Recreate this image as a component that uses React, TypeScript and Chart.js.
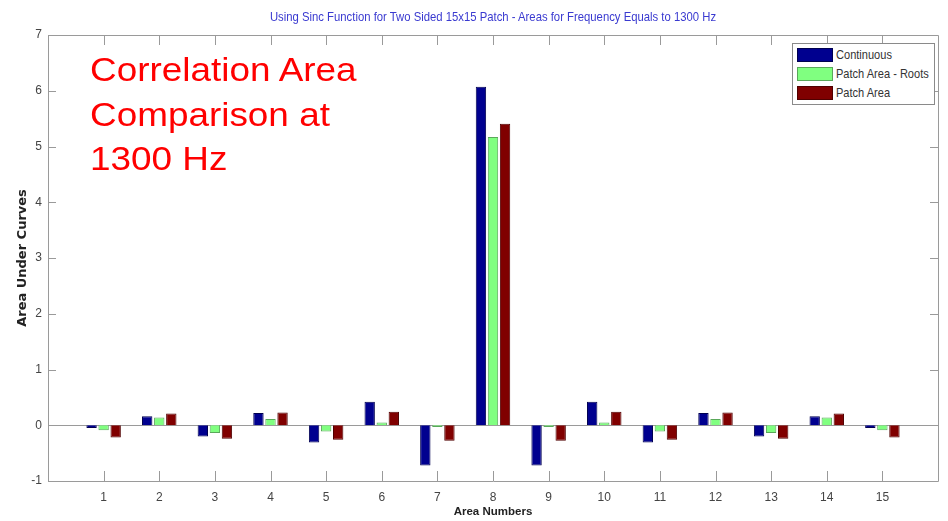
import React, { useEffect, useRef } from "react";
import { Chart, registerables } from "chart.js";

Chart.register(...registerables);

const areaNumbers = ["1", "2", "3", "4", "5", "6", "7", "8", "9", "10", "11", "12", "13", "14", "15"];
const continuous = [-0.05, 0.16, -0.2, 0.22, -0.31, 0.42, -0.72, 6.07, -0.72, 0.42, -0.31, 0.22, -0.2, 0.16, -0.05];
const patchAreaRoots = [-0.09, 0.14, -0.14, 0.11, -0.11, 0.05, -0.03, 5.17, -0.03, 0.05, -0.11, 0.11, -0.14, 0.14, -0.09];
const patchArea = [-0.22, 0.21, -0.24, 0.23, -0.26, 0.24, -0.28, 5.41, -0.28, 0.24, -0.26, 0.23, -0.24, 0.21, -0.22];
const yTickValues = [-1, 0, 1, 2, 3, 4, 5, 6, 7];

const titleText = "Using Sinc Function for Two Sided 15x15 Patch - Areas for Frequency Equals to 1300 Hz";
const annotationLines = ["Correlation Area", "Comparison at", "1300 Hz"];
const legendItems = [
  { label: "Continuous", color: "#00008f", border: "#000050" },
  { label: "Patch Area - Roots", color: "#80ff80", border: "#5aa85a" },
  { label: "Patch Area", color: "#800000", border: "#500000" },
];

const SANS = "'Liberation Sans', Arial, Helvetica, sans-serif";
const AXIS_COLOR = "#9a9a9a";

const pad = (arr: number[]) => [null, ...arr, null];

const matlabAxes = {
  id: "matlabAxes",
  beforeDatasetsDraw(chart: any) {
    const { ctx, chartArea, scales } = chart;
    const y0 = Math.round(scales.y.getPixelForValue(0)) + 0.5;
    ctx.save();
    ctx.strokeStyle = AXIS_COLOR;
    ctx.lineWidth = 1;
    ctx.beginPath();
    ctx.moveTo(chartArea.left, y0);
    ctx.lineTo(chartArea.right, y0);
    ctx.stroke();
    ctx.restore();
  },
  afterDatasetsDraw(chart: any) {
    const { ctx, chartArea, scales } = chart;
    const { left, right, top, bottom } = chartArea;
    ctx.save();
    ctx.strokeStyle = AXIS_COLOR;
    ctx.lineWidth = 1;
    ctx.beginPath();
    ctx.rect(Math.round(left) + 0.5, Math.round(top) + 0.5, Math.round(right - left), Math.round(bottom - top));
    ctx.stroke();
    ctx.beginPath();
    for (let i = 1; i <= areaNumbers.length; i++) {
      const x = Math.round(scales.x.getPixelForValue(i)) + 0.5;
      ctx.moveTo(x, bottom);
      ctx.lineTo(x, bottom - 10);
      ctx.moveTo(x, top);
      ctx.lineTo(x, top + 10);
    }
    for (const v of yTickValues) {
      const y = Math.round(scales.y.getPixelForValue(v)) + 0.5;
      ctx.moveTo(left, y);
      ctx.lineTo(left + 8, y);
      ctx.moveTo(right, y);
      ctx.lineTo(right - 8, y);
    }
    ctx.stroke();
    ctx.restore();
  },
};

export default function App() {
  const canvasRef = useRef<HTMLCanvasElement | null>(null);

  useEffect(() => {
    const canvas = canvasRef.current;
    if (!canvas) return;
    const labels = ["", ...areaNumbers, ""];
    const common = { categoryPercentage: 0.65, barPercentage: 0.86, borderWidth: 1 };
    const chart = new Chart(canvas, {
      type: "bar",
      data: {
        labels,
        datasets: [
          { label: legendItems[0].label, data: pad(continuous), backgroundColor: legendItems[0].color, borderColor: legendItems[0].border, ...common },
          { label: legendItems[1].label, data: pad(patchAreaRoots), backgroundColor: legendItems[1].color, borderColor: legendItems[1].border, ...common },
          { label: legendItems[2].label, data: pad(patchArea), backgroundColor: legendItems[2].color, borderColor: legendItems[2].border, ...common },
        ] as any,
      },
      options: {
        responsive: false,
        animation: false,
        layout: { padding: { top: 35, right: 10, left: 0, bottom: 0 } },
        plugins: {
          legend: { display: false },
          title: { display: false },
          tooltip: { enabled: false },
        },
        scales: {
          x: {
            type: "category",
            offset: false,
            grid: { display: false, drawTicks: false },
            border: { display: false },
            ticks: {
              autoSkip: false,
              maxRotation: 0,
              padding: 9,
              color: "#444",
              font: { family: SANS, size: 12 },
            },
            title: {
              display: true,
              text: "Area Numbers",
              color: "#222",
              font: { family: SANS, size: 11.5, weight: "bold" },
              padding: { top: 0, bottom: 2 },
            },
            afterFit: (scale: any) => {
              scale.height = 40;
            },
          },
          y: {
            min: -1,
            max: 7,
            grid: { display: false, drawTicks: false },
            border: { display: false },
            ticks: {
              stepSize: 1,
              padding: 6,
              color: "#444",
              font: { family: SANS, size: 12 },
            },
            title: {
              display: true,
              text: "Area Under Curves",
              color: "#222",
              font: { family: "'DejaVu Sans', sans-serif", size: 13, weight: "bold" },
              padding: { top: 15, bottom: 0 },
            },
            afterFit: (scale: any) => {
              scale.width = 48;
            },
          },
        },
      } as any,
      plugins: [matlabAxes],
    });
    return () => chart.destroy();
  }, []);

  return (
    <div style={{ position: "absolute", left: 0, top: 0, width: 948, height: 521, background: "#fff", overflow: "hidden" }}>
      <canvas ref={canvasRef} width={948} height={521} style={{ position: "absolute", left: 0, top: 0 }} />
      <div
        style={{
          position: "absolute",
          left: 93,
          width: 800,
          top: 9,
          textAlign: "center",
          fontFamily: SANS,
          fontSize: 13,
          lineHeight: "16px",
          color: "#3a3ad0",
          whiteSpace: "nowrap",
          transform: "scaleX(0.87)",
          transformOrigin: "400px 50%",
        }}
      >
        {titleText}
      </div>
      <div
        style={{
          position: "absolute",
          left: 90,
          top: 47,
          fontFamily: SANS,
          fontSize: 34,
          lineHeight: "44.5px",
          color: "#ff0000",
          whiteSpace: "nowrap",
          transform: "scaleX(1.085)",
          transformOrigin: "0 0",
        }}
      >
        {annotationLines.map((l) => (
          <div key={l}>{l}</div>
        ))}
      </div>
      <div
        style={{
          position: "absolute",
          left: 792,
          top: 43,
          width: 143,
          height: 62,
          border: "1px solid #8a8a8a",
          background: "#fff",
          boxSizing: "border-box",
        }}
      >
        {legendItems.map((it, i) => (
          <div key={it.label} style={{ position: "absolute", left: 4, top: 4 + i * 19, height: 14, display: "flex", alignItems: "center" }}>
            <div style={{ width: 36, height: 14, background: it.color, border: `1px solid ${it.border}`, boxSizing: "border-box", flex: "none" }} />
            <span
              style={{
                display: "inline-block",
                marginLeft: 3,
                fontFamily: SANS,
                fontSize: 13,
                color: "#333",
                lineHeight: "14px",
                whiteSpace: "nowrap",
                transform: "scaleX(0.85)",
                transformOrigin: "0 50%",
              }}
            >
              {it.label}
            </span>
          </div>
        ))}
      </div>
    </div>
  );
}
